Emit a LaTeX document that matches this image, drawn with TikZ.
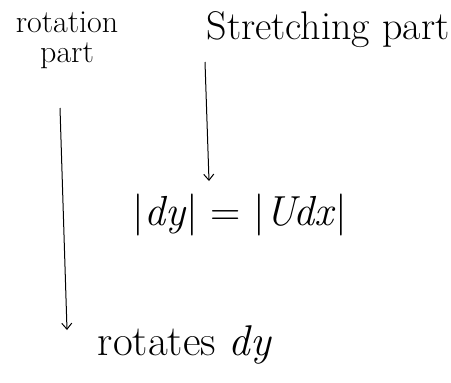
\documentclass[tikz,border=0pt]{standalone}
\usepackage{fontspec}
\usetikzlibrary{arrows.meta}
\begin{document}
\begin{tikzpicture}[x=1pt,y=-1pt,
  lbl/.style={inner sep=0pt, align=center},
  conn/.style={line width=1pt, -{Straight Barb[length=6pt,width=10pt]}}]
\useasboundingbox (0,0) rectangle (451,383);
\node[lbl, font=\fontsize{32}{30}\selectfont] (rot) at (67,40) {rotation\\part};
\node[lbl, font=\fontsize{40}{40}\selectfont] (str) at (328,30) {Stretching part};
\node[lbl, font=\fontsize{42}{42}\selectfont] (eq) at (240,215) {|\textit{dy}| = |\textit{Udx}|};
\node[lbl, font=\fontsize{43}{43}\selectfont] (rd) at (185,345) {rotates \textit{dy}};
\coordinate (a1) at (205,62);
\coordinate (a2) at (60,108);
\draw[conn] (a1) -- (209,181);
\draw[conn] (a2) -- (67,330);
\end{tikzpicture}
\end{document}
